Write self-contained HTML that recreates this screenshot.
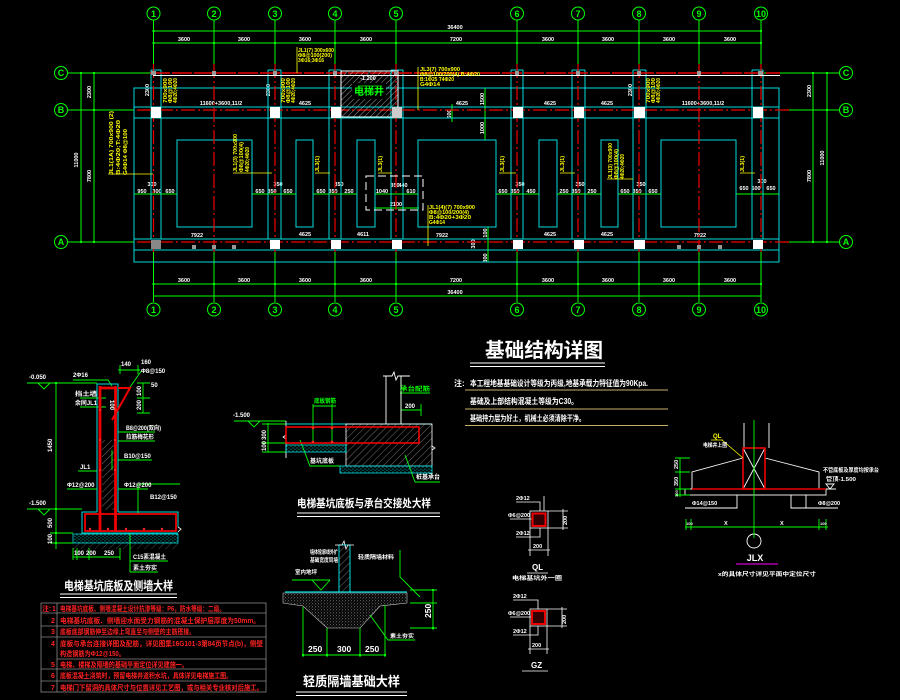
<!DOCTYPE html>
<html><head><meta charset="utf-8">
<style>
html,body{margin:0;padding:0;background:#000;width:900px;height:700px;overflow:hidden;}
svg{display:block;}
text{font-family:"Liberation Sans","Noto Sans CJK SC",sans-serif;font-weight:bold;}
.w{fill:#fff}.g{fill:#0f0}.y{fill:#ff0}.r{fill:#f22}
</style></head><body>
<svg width="900" height="700" viewBox="0 0 900 700" xmlns="http://www.w3.org/2000/svg">
<defs>
<pattern id="hatch" width="4" height="4" patternUnits="userSpaceOnUse" patternTransform="rotate(45)">
<line x1="0" y1="0" x2="0" y2="4" stroke="#ddd" stroke-width="0.7"/>
</pattern>
<pattern id="hatch2" width="5" height="5" patternUnits="userSpaceOnUse" patternTransform="rotate(45)">
<line x1="0" y1="0" x2="0" y2="5" stroke="#bbb" stroke-width="0.6"/>
</pattern>
<pattern id="cdots" width="4" height="3" patternUnits="userSpaceOnUse">
<rect x="0.5" y="0.5" width="0.9" height="0.9" fill="#0ee"/>
<rect x="2.5" y="1.8" width="0.9" height="0.9" fill="#0ee"/>
</pattern>
<pattern id="speck" width="3" height="3" patternUnits="userSpaceOnUse">
<rect x="0.3" y="0.4" width="0.8" height="0.8" fill="#ccc"/>
<rect x="1.8" y="1.7" width="0.7" height="0.7" fill="#999"/>
</pattern>
</defs>
<rect width="900" height="700" fill="#000"/>

<!-- ================= PLAN ================= -->
<g stroke="#0f0" stroke-width="1" fill="none">
  <line x1="153.5" y1="31" x2="761" y2="31"/>
  <line x1="153.5" y1="43" x2="761" y2="43"/>
  <line x1="153.5" y1="284" x2="761" y2="284"/>
  <line x1="153.5" y1="296" x2="761" y2="296"/>
  <path d="M153.5 20V66M214 20V66M275 20V66M335 20V66M396 20V66M517 20V66M578 20V66M639 20V66M699 20V66M761 20V66"/>
  <path d="M153.5 250V302M214 250V302M275 250V302M335 250V302M396 250V302M517 250V302M578 250V302M639 250V302M699 250V302M761 250V302"/>
  <circle cx="153.5" cy="13.5" r="6.5"/><circle cx="214" cy="13.5" r="6.5"/><circle cx="275" cy="13.5" r="6.5"/><circle cx="335" cy="13.5" r="6.5"/><circle cx="396" cy="13.5" r="6.5"/><circle cx="517" cy="13.5" r="6.5"/><circle cx="578" cy="13.5" r="6.5"/><circle cx="639" cy="13.5" r="6.5"/><circle cx="699" cy="13.5" r="6.5"/><circle cx="761" cy="13.5" r="6.5"/>
  <circle cx="153.5" cy="309.5" r="6.5"/><circle cx="214" cy="309.5" r="6.5"/><circle cx="275" cy="309.5" r="6.5"/><circle cx="335" cy="309.5" r="6.5"/><circle cx="396" cy="309.5" r="6.5"/><circle cx="517" cy="309.5" r="6.5"/><circle cx="578" cy="309.5" r="6.5"/><circle cx="639" cy="309.5" r="6.5"/><circle cx="699" cy="309.5" r="6.5"/><circle cx="761" cy="309.5" r="6.5"/>
  <circle cx="61" cy="73" r="6.5"/><circle cx="61" cy="110" r="6.5"/><circle cx="61" cy="242" r="6.5"/>
  <circle cx="846" cy="73" r="6.5"/><circle cx="846" cy="110" r="6.5"/><circle cx="846" cy="242" r="6.5"/>
  <path d="M68 73H152M68 110H134M68 242H134M763 73H839M779 110H839M779 242H839"/>
  <path d="M81 73V242M94 73V242M813 73V242M827 73V242"/>
  <path d="M485 88V140M476 140H492M452 104V122M488 227V262M482 239H494M482 250H494"/>
  <path d="M134 194H177M252 194H296M313 194H357M375 194H418M496 194H539M557 194H601M618 194H661M736 194H779M374 208H419"/>
</g>
<g fill="#0f0">
  <rect x="152.5" y="30" width="2" height="2"/><rect x="760" y="30" width="2" height="2"/>
  <rect x="152.5" y="42" width="2" height="2"/><rect x="213" y="42" width="2" height="2"/><rect x="274" y="42" width="2" height="2"/><rect x="334" y="42" width="2" height="2"/><rect x="395" y="42" width="2" height="2"/><rect x="516" y="42" width="2" height="2"/><rect x="577" y="42" width="2" height="2"/><rect x="638" y="42" width="2" height="2"/><rect x="698" y="42" width="2" height="2"/><rect x="760" y="42" width="2" height="2"/>
  <rect x="152.5" y="283" width="2" height="2"/><rect x="213" y="283" width="2" height="2"/><rect x="274" y="283" width="2" height="2"/><rect x="334" y="283" width="2" height="2"/><rect x="395" y="283" width="2" height="2"/><rect x="516" y="283" width="2" height="2"/><rect x="577" y="283" width="2" height="2"/><rect x="638" y="283" width="2" height="2"/><rect x="698" y="283" width="2" height="2"/><rect x="760" y="283" width="2" height="2"/>
  <rect x="80" y="72" width="2" height="2"/><rect x="80" y="241" width="2" height="2"/><rect x="93" y="72" width="2" height="2"/><rect x="93" y="109" width="2" height="2"/><rect x="93" y="241" width="2" height="2"/>
  <rect x="812" y="72" width="2" height="2"/><rect x="812" y="241" width="2" height="2"/><rect x="826" y="72" width="2" height="2"/><rect x="826" y="109" width="2" height="2"/><rect x="826" y="241" width="2" height="2"/>
</g>
<g class="g" font-size="9" text-anchor="middle" style="font-weight:normal">
  <text x="153.5" y="17">1</text><text x="214" y="17">2</text><text x="275" y="17">3</text><text x="335" y="17">4</text><text x="396" y="17">5</text><text x="517" y="17">6</text><text x="578" y="17">7</text><text x="639" y="17">8</text><text x="699" y="17">9</text><text x="761" y="17">10</text>
  <text x="153.5" y="313">1</text><text x="214" y="313">2</text><text x="275" y="313">3</text><text x="335" y="313">4</text><text x="396" y="313">5</text><text x="517" y="313">6</text><text x="578" y="313">7</text><text x="639" y="313">8</text><text x="699" y="313">9</text><text x="761" y="313">10</text>
  <text x="61" y="76">C</text><text x="61" y="113">B</text><text x="61" y="245">A</text>
  <text x="846" y="76">C</text><text x="846" y="113">B</text><text x="846" y="245">A</text>
</g>
<g class="w" font-size="5.5" text-anchor="middle">
  <text x="455" y="29">36400</text>
  <text x="184" y="41">3600</text><text x="244" y="41">3600</text><text x="305" y="41">3600</text><text x="366" y="41">3600</text><text x="456" y="41">7200</text><text x="548" y="41">3600</text><text x="608" y="41">3600</text><text x="669" y="41">3600</text><text x="730" y="41">3600</text>
  <text x="184" y="282">3600</text><text x="244" y="282">3600</text><text x="305" y="282">3600</text><text x="366" y="282">3600</text><text x="456" y="282">7200</text><text x="548" y="282">3600</text><text x="608" y="282">3600</text><text x="669" y="282">3600</text><text x="730" y="282">3600</text>
  <text x="455" y="294">36400</text>
  <text x="221" y="105">11600+3600,11/2</text><text x="305" y="105">4625</text><text x="462" y="105">4625</text><text x="550" y="105">4625</text><text x="607" y="105">4625</text><text x="703" y="105">11600+3600,11/2</text>
  <text x="197" y="237">7922</text><text x="305" y="236">4625</text><text x="363" y="236">4611</text><text x="442" y="237">7922</text><text x="550" y="236">4625</text><text x="607" y="236">4625</text><text x="700" y="237">7922</text>
  <text x="142" y="193">950</text><text x="157" y="193">300</text><text x="170" y="193">650</text><text x="152" y="186">300</text>
  <text x="260" y="193">650</text><text x="272" y="193">350</text><text x="288" y="193">650</text><text x="278" y="186">350</text>
  <text x="321" y="193">650</text><text x="333" y="193">350</text><text x="349" y="193">250</text><text x="339" y="186">350</text>
  <text x="382" y="193">1040</text><text x="395" y="187">350</text><text x="403" y="187">440</text><text x="411" y="193">610</text><text x="396" y="206">2100</text>
  <text x="503" y="193">650</text><text x="515" y="193">350</text><text x="531" y="193">450</text><text x="520" y="186">350</text>
  <text x="564" y="193">250</text><text x="576" y="193">350</text><text x="592" y="193">250</text><text x="580" y="186">350</text>
  <text x="625" y="193">650</text><text x="637" y="193">350</text><text x="653" y="193">650</text><text x="641" y="186">350</text>
  <text x="744" y="190">650</text><text x="756" y="190">500</text><text x="771" y="190">650</text><text x="762" y="183">300</text>
  <text transform="translate(91,92) rotate(-90)">2300</text>
  <text transform="translate(78,160) rotate(-90)">11000</text>
  <text transform="translate(91,176) rotate(-90)">7800</text>
  <text transform="translate(811,91) rotate(-90)">2300</text>
  <text transform="translate(824,158) rotate(-90)">11000</text>
  <text transform="translate(811,176) rotate(-90)">7800</text>
  <text transform="translate(149,90) rotate(-90)">2300</text>
  <text transform="translate(270,90) rotate(-90)">2300</text>
  <text transform="translate(632,90) rotate(-90)">2300</text>
  <text transform="translate(484,99) rotate(-90)">1500</text>
  <text transform="translate(484,128) rotate(-90)">1000</text>
  <text transform="translate(451,114) rotate(-90)">600</text>
  <text transform="translate(487,233) rotate(-90)">100</text>
  <text transform="translate(475,244) rotate(-90)">300</text>
  <text transform="translate(487,258) rotate(-90)">300</text>
  <text x="368" y="80">-1.200</text>
</g>

<g stroke="#0dd" stroke-width="1" fill="none">
  <rect x="134" y="88" width="645" height="174"/>
  <path d="M134 107H779M134 118H779M134 239H779M134 250H779"/>
  <path d="M151 70V239M161 70V239M151 70H161"/>
  <path d="M268 70V239M281 70V239M268 70H281"/>
  <path d="M329 70V239M341 70V239M329 70H341"/>
  <path d="M391 70V239M403 70V239M391 70H403"/>
  <path d="M511 70V239M523 70V239M511 70H523"/>
  <path d="M572 70V239M585 70V239M572 70H585"/>
  <path d="M633 70V239M646 70V239M633 70H646"/>
  <path d="M752 70V239M763 70V239M752 70H763"/>
  <rect x="177" y="140" width="75" height="87"/>
  <rect x="296" y="140" width="17" height="87"/>
  <rect x="357" y="140" width="18" height="87"/>
  <rect x="418" y="140" width="78" height="87"/>
  <rect x="539" y="140" width="18" height="87"/>
  <rect x="601" y="140" width="17" height="87"/>
  <rect x="661" y="140" width="75" height="87"/>
</g>

<g stroke="#e00" stroke-width="1.2" fill="none" stroke-dasharray="14,3,2,3">
  <path d="M153.5 64V252M214 64V252M275 64V252M335 64V252M396 64V252M517 64V252M578 64V252M639 64V252M699 64V252M761 64V252"/>
  <path d="M137 110H790M137 242H790"/>
</g>
<path d="M150 73H780" stroke="#e00" stroke-width="1.5" stroke-dasharray="20,2"/>
<path d="M153 75.5H780" stroke="#fff" stroke-width="1"/>

<rect x="341" y="71" width="57" height="46" fill="url(#hatch)" stroke="#fff" stroke-width="1"/>
<rect x="352" y="83" width="34" height="16" fill="#000"/>
<text x="369" y="95" font-size="10" class="g" text-anchor="middle">电梯井</text>
<path d="M358 86H382" stroke="#0f0" stroke-width="0.8"/>
<rect x="366" y="176" width="57" height="34" fill="none" stroke="#fff" stroke-width="1" stroke-dasharray="8,4"/>

<g fill="#fff">
  <rect x="151" y="107" width="10" height="11"/><rect x="270" y="107" width="10" height="11"/><rect x="331" y="107" width="10" height="11"/><rect x="392" y="107" width="10" height="11" fill="#ccc"/><rect x="513" y="107" width="10" height="11"/><rect x="574" y="107" width="10" height="11"/><rect x="634" y="107" width="11" height="11"/><rect x="753" y="107" width="10" height="11"/>
  <rect x="151" y="240" width="10" height="9" fill="#888"/><rect x="270" y="240" width="10" height="9"/><rect x="331" y="240" width="10" height="9"/><rect x="392" y="240" width="10" height="9"/><rect x="513" y="240" width="10" height="9"/><rect x="574" y="240" width="10" height="9"/><rect x="634" y="240" width="11" height="9"/><rect x="753" y="240" width="10" height="9"/>
</g>
<g fill="#999">
  <rect x="151" y="71" width="5" height="4"/><rect x="212" y="71" width="4" height="4"/><rect x="273" y="71" width="4" height="4"/><rect x="333" y="71" width="4" height="4"/><rect x="394" y="71" width="4" height="4"/><rect x="515" y="71" width="4" height="4"/><rect x="576" y="71" width="4" height="4"/><rect x="637" y="71" width="4" height="4"/><rect x="697" y="71" width="4" height="4"/><rect x="758" y="71" width="5" height="4"/>
  <rect x="192" y="245" width="4" height="4"/><rect x="212" y="245" width="4" height="4"/><rect x="232" y="245" width="4" height="4"/><rect x="677" y="245" width="4" height="4"/><rect x="697" y="245" width="4" height="4"/><rect x="718" y="245" width="4" height="4"/>
</g>

<g stroke="#ff0" stroke-width="0.8" fill="none">
  <path d="M108 174H153M233 173H272M315 173H330M378 173H392M499 173H516M560 173H575M740 173H755M607 179H633"/>
  <path d="M297 47V73M418 67V110M428 205V246"/>
</g>
<g class="y" font-size="5.5">
  <text transform="translate(113,175) rotate(-90)" textLength="64" lengthAdjust="spacingAndGlyphs">JL1(1A) 700x900 (2)</text>
  <text transform="translate(120,175) rotate(-90)" textLength="55" lengthAdjust="spacingAndGlyphs">B:4Φ20;T:4Φ20</text>
  <text transform="translate(127,175) rotate(-90)" textLength="46" lengthAdjust="spacingAndGlyphs">G4Φ14 Φ8@100</text>
  <text transform="translate(167,103) rotate(-90)" textLength="25" lengthAdjust="spacingAndGlyphs">700x900</text>
  <text transform="translate(172,103) rotate(-90)" textLength="25" lengthAdjust="spacingAndGlyphs">Φ8@100</text>
  <text transform="translate(177,103) rotate(-90)" textLength="25" lengthAdjust="spacingAndGlyphs">4Φ20;4Φ20</text>
  <text transform="translate(285,103) rotate(-90)" textLength="25" lengthAdjust="spacingAndGlyphs">700x900</text>
  <text transform="translate(290,103) rotate(-90)" textLength="25" lengthAdjust="spacingAndGlyphs">Φ8@100</text>
  <text transform="translate(295,103) rotate(-90)" textLength="25" lengthAdjust="spacingAndGlyphs">4Φ20;4Φ20</text>
  <text transform="translate(237,172) rotate(-90)" textLength="38" lengthAdjust="spacingAndGlyphs">JL1(3) 700x900</text>
  <text transform="translate(243,172) rotate(-90)" textLength="30" lengthAdjust="spacingAndGlyphs">Φ8@100(4)</text>
  <text transform="translate(249,172) rotate(-90)" textLength="25" lengthAdjust="spacingAndGlyphs">4Φ20;4Φ20</text>
  <text transform="translate(319,172) rotate(-90)" textLength="16" lengthAdjust="spacingAndGlyphs">JL3(1)</text>
  <text transform="translate(382,172) rotate(-90)" textLength="16" lengthAdjust="spacingAndGlyphs">JL3(1)</text>
  <text transform="translate(504,172) rotate(-90)" textLength="16" lengthAdjust="spacingAndGlyphs">JL3(1)</text>
  <text transform="translate(564,172) rotate(-90)" textLength="16" lengthAdjust="spacingAndGlyphs">JL3(1)</text>
  <text transform="translate(744,172) rotate(-90)" textLength="16" lengthAdjust="spacingAndGlyphs">JL3(1)</text>
  <text transform="translate(650,103) rotate(-90)" textLength="25" lengthAdjust="spacingAndGlyphs">700x900</text>
  <text transform="translate(655,103) rotate(-90)" textLength="25" lengthAdjust="spacingAndGlyphs">Φ8@100</text>
  <text transform="translate(660,103) rotate(-90)" textLength="25" lengthAdjust="spacingAndGlyphs">4Φ20;4Φ20</text>
  <text transform="translate(612,179) rotate(-90)" textLength="36" lengthAdjust="spacingAndGlyphs">JL1(3) 700x900</text>
  <text transform="translate(618,179) rotate(-90)" textLength="30" lengthAdjust="spacingAndGlyphs">Φ8@100(4)</text>
  <text transform="translate(624,179) rotate(-90)" textLength="25" lengthAdjust="spacingAndGlyphs">4Φ20;4Φ20</text>
  <text x="298" y="52" textLength="36" lengthAdjust="spacingAndGlyphs">JL1(7) 300x600</text>
  <text x="298" y="57" textLength="34" lengthAdjust="spacingAndGlyphs">Φ8@100(200)</text>
  <text x="298" y="62" textLength="26" lengthAdjust="spacingAndGlyphs">3Φ16;3Φ16</text>
  <text x="420" y="71" textLength="40" lengthAdjust="spacingAndGlyphs">JL3(7) 700x900</text>
  <text x="420" y="76" textLength="60" lengthAdjust="spacingAndGlyphs">Φ8@100/200(4) B:4Φ20</text>
  <text x="420" y="81" textLength="34" lengthAdjust="spacingAndGlyphs">B:1Φ25 T4Φ20</text>
  <text x="420" y="86" textLength="20" lengthAdjust="spacingAndGlyphs">G4Φ14</text>
  <text x="429" y="209" textLength="46" lengthAdjust="spacingAndGlyphs">JL1(4)(7) 700x900</text>
  <text x="429" y="214" textLength="40" lengthAdjust="spacingAndGlyphs">Φ8@100/200(4)</text>
  <text x="429" y="219" textLength="42" lengthAdjust="spacingAndGlyphs">B:4Φ20+3Φ20</text>
  <text x="429" y="224" textLength="16" lengthAdjust="spacingAndGlyphs">G4Φ14</text>
</g>

<!-- ================= TITLE + NOTES ================= -->
<text x="485" y="357" font-size="20" class="w" textLength="118" lengthAdjust="spacingAndGlyphs">基础结构详图</text>
<path d="M470 363H605M470 366.5H605" stroke="#fff" stroke-width="1"/>
<text x="454" y="386" font-size="8" class="w">注:</text>
<g class="w" font-size="8">
  <text x="470" y="386" textLength="178" lengthAdjust="spacingAndGlyphs">本工程地基基础设计等级为丙级,地基承载力特征值为90Kpa.</text>
  <text x="470" y="404" textLength="108" lengthAdjust="spacingAndGlyphs">基础及上部结构混凝土等级为C30。</text>
  <text x="470" y="421" textLength="115" lengthAdjust="spacingAndGlyphs">基础持力层为好土，机械土必须清除干净。</text>
</g>
<path d="M465 390H668M465 409H668M465 425.5H668" stroke="#c9b06a" stroke-width="1"/>

<!-- ================= LEFT DETAIL ================= -->
<g stroke="#0f0" stroke-width="0.9" fill="none">
  <path d="M27 383H97M27 509H82"/>
  <path d="M38 383L44 389L50 383"/>
  <path d="M38 509L44 515L50 509"/>
  <path d="M56 383V549M50 533H73M50 543H73"/>
  <path d="M73 557H120M73 548V560M77 548V560M89 548V560M120 548V560"/>
  <path d="M130 533V572M130 561H168M130 572H158"/>
  <path d="M73 380H108L112 386"/>
  <path d="M120 365V374M138 365V374M118 370H140"/>
  <path d="M142 370L128 390M143 383V413M137 383H150M137 398H150M137 413H150"/>
  <path d="M106 398H80M106 407H80"/>
  <path d="M78 471H97M67 489H97M118 489H148M118 460H152M118 432H155M118 441H155M112 450V470"/>
  <path d="M138 514V484H180"/>
</g>
<rect x="55" y="382" width="2" height="2" fill="#0f0"/><rect x="55" y="508" width="2" height="2" fill="#0f0"/><rect x="55" y="532" width="2" height="2" fill="#0f0"/><rect x="55" y="542" width="2" height="2" fill="#0f0"/>
<path d="M97 512V384H118V512M97 512H82V533H178M118 512H178V527" stroke="#0dd" stroke-width="1" fill="none"/>
<path d="M178 527l3 2-3 3" stroke="#fff" stroke-width="0.8" fill="none"/>
<path d="M118 388L130 388L112 420" stroke="#e00" stroke-width="2" fill="none"/>
<path d="M100 386V532M115.5 386V532M100 388H116" stroke="#e00" stroke-width="2.8" fill="none"/>
<rect x="102" y="440" width="12" height="70" fill="url(#hatch2)"/>
<rect x="85" y="514" width="91" height="17" fill="none" stroke="#e00" stroke-width="1.8"/>
<g fill="#f22"><circle cx="90" cy="529" r="1.2"/><circle cx="108" cy="529" r="1.2"/><circle cx="126" cy="529" r="1.2"/><circle cx="144" cy="529" r="1.2"/><circle cx="162" cy="529" r="1.2"/><circle cx="100" cy="410" r="1.2"/><circle cx="115" cy="410" r="1.2"/><circle cx="100" cy="440" r="1.2"/><circle cx="115" cy="440" r="1.2"/><circle cx="100" cy="470" r="1.2"/><circle cx="115" cy="470" r="1.2"/></g>
<rect x="73" y="534" width="105" height="9" fill="url(#cdots)" stroke="#0dd" stroke-width="0.8"/>
<rect x="73" y="543" width="105" height="6" fill="url(#hatch2)" opacity="0.6"/>
<g class="w" font-size="6">
  <text x="29" y="379">-0.050</text>
  <text x="29" y="505">-1.500</text>
  <text transform="translate(52,452) rotate(-90)">1450</text>
  <text transform="translate(52,528) rotate(-90)">500</text>
  <text transform="translate(52,544) rotate(-90)">100</text>
  <text x="73" y="377">2Φ16</text>
  <text x="121" y="366">140</text>
  <text x="141" y="364">160</text>
  <text x="141" y="373">Φ8@150</text>
  <text transform="translate(141,396) rotate(-90)">100</text>
  <text transform="translate(141,410) rotate(-90)">200</text>
  <text x="151" y="387">50</text>
  <text x="75" y="396" textLength="22" lengthAdjust="spacingAndGlyphs">挡土墙</text>
  <text x="75" y="405" textLength="22" lengthAdjust="spacingAndGlyphs">余同JL1</text>
  <text x="126" y="430" textLength="35" lengthAdjust="spacingAndGlyphs">B8@200(双向)</text>
  <text x="126" y="439" textLength="28" lengthAdjust="spacingAndGlyphs">拉筋梅花形</text>
  <text x="124" y="458">B10@150</text>
  <text x="80" y="469">JL1</text>
  <text x="67" y="487">Φ12@200</text>
  <text x="124" y="487">Φ12@200</text>
  <text x="150" y="499">B12@150</text>
  <text x="74" y="555">100</text><text x="86" y="555">200</text><text x="104" y="555">250</text>
  <text x="133" y="559" textLength="33" lengthAdjust="spacingAndGlyphs">C15素混凝土</text>
  <text x="133" y="570" textLength="24" lengthAdjust="spacingAndGlyphs">素土夯实</text>
  <text transform="translate(110,400) rotate(90)">100</text>
</g>
<text x="64" y="590" font-size="12" class="w" textLength="109" lengthAdjust="spacingAndGlyphs">电梯基坑底板及侧墙大样</text>
<path d="M60 594H177M60 597.5H177" stroke="#fff" stroke-width="1"/>

<g stroke="#888" stroke-width="0.8" fill="none">
  <rect x="41" y="603" width="225" height="89"/>
  <path d="M57 603V692M41 613H266M41 626H266M41 637H266M57 659H266M41 669H266M41 681H266"/>
</g>
<g class="r" font-size="7">
  <text x="42" y="611">注:</text><text x="52" y="611">1</text>
  <text x="51" y="623">2</text><text x="51" y="634">3</text><text x="51" y="646">4</text><text x="51" y="667">5</text><text x="51" y="678">6</text><text x="51" y="690">7</text>
</g>
<g class="r" font-size="7">
  <text x="60" y="611" textLength="165" lengthAdjust="spacingAndGlyphs">电梯基坑底板、侧墙混凝土设计抗渗等级：P6，防水等级：二级。</text>
  <text x="60" y="623" textLength="200" lengthAdjust="spacingAndGlyphs">电梯基坑底板、侧墙迎水面受力钢筋的混凝土保护层厚度为50mm。</text>
  <text x="60" y="634" textLength="135" lengthAdjust="spacingAndGlyphs">底板底部钢筋伸至边缘上弯直至与侧壁的主筋搭接。</text>
  <text x="60" y="646" textLength="203" lengthAdjust="spacingAndGlyphs">底板与承台连接详图及配筋，详见图集16G101-3第84页节点(b)，侧壁</text>
  <text x="60" y="656" textLength="65" lengthAdjust="spacingAndGlyphs">构造钢筋为Φ12@150。</text>
  <text x="60" y="667" textLength="128" lengthAdjust="spacingAndGlyphs">电梯、楼梯及隔墙的基础平面定位详见建施一。</text>
  <text x="60" y="678" textLength="172" lengthAdjust="spacingAndGlyphs">底板混凝土浇筑时，预留电梯井道积水坑，具体详见电梯施工图。</text>
  <text x="60" y="690" textLength="203" lengthAdjust="spacingAndGlyphs">电梯门下留洞的具体尺寸与位置详见工艺图，或与相关专业核对后施工。</text>
</g>

<!-- ================= MIDDLE DETAIL ================= -->
<g stroke="#0f0" stroke-width="0.9" fill="none">
  <path d="M234 421H286M248 421L254 427L260 421"/>
  <path d="M268 423V452M262 424H286M262 443H286M262 452H286"/>
  <path d="M313 404V443M332 404V443M313 406H336"/>
  <path d="M401 378V424M401 410H421M421 404V416M400 393H430"/>
  <path d="M300 440L310 466H340"/>
  <path d="M405 455L415 482H440"/>
</g>
<path d="M286 421V458M386 376V424M401 376V424M383 376H392l2-4 2 8 2-4H410" stroke="#fff" stroke-width="0.9" fill="none"/>
<path d="M286 435l-3 2 3 2M432 446l3 2-3 2" stroke="#fff" stroke-width="0.8" fill="none"/>
<path d="M286 424H432" stroke="#0dd" stroke-width="1"/>
<rect x="346" y="424" width="86" height="42" fill="url(#hatch2)" stroke="#fff" stroke-width="0.8"/>
<rect x="286" y="427" width="133" height="16" fill="none" stroke="#e00" stroke-width="1.6"/>
<g fill="#f22"><circle cx="313" cy="428" r="1.4"/><circle cx="332" cy="428" r="1.4"/><circle cx="313" cy="442" r="1.4"/><circle cx="332" cy="442" r="1.4"/></g>
<rect x="286" y="445" width="60" height="7" fill="url(#cdots)" stroke="#0dd" stroke-width="0.8"/>
<rect x="340" y="466" width="92" height="7" fill="url(#cdots)" stroke="#0dd" stroke-width="0.8"/>
<g class="w" font-size="6">
  <text x="233" y="417">-1.500</text>
  <text transform="translate(266,440) rotate(-90)">300</text>
  <text transform="translate(266,451) rotate(-90)">100</text>
  <text x="405" y="408">200</text>
  <text x="310" y="463" textLength="24" lengthAdjust="spacingAndGlyphs">基坑底板</text>
  <text x="416" y="479" textLength="24" lengthAdjust="spacingAndGlyphs">桩基承台</text>
</g>
<g class="g" font-size="6">
  <text x="314" y="403" textLength="22" lengthAdjust="spacingAndGlyphs">底板钢筋</text>
  <text x="400" y="391" textLength="30" lengthAdjust="spacingAndGlyphs">承台配筋</text>
</g>
<text x="297" y="507" font-size="11" class="w" textLength="134" lengthAdjust="spacingAndGlyphs">电梯基坑底板与承台交接处大样</text>
<path d="M297 513H440M297 516.5H440" stroke="#fff" stroke-width="1"/>

<!-- ================= LIGHT WALL DETAIL ================= -->
<polygon points="283,593 407,593 407,603 380,606 360,628 327,628 303,606 283,603" fill="url(#speck)" stroke="#ccc" stroke-width="0.6"/>
<rect x="339" y="545" width="11" height="47" fill="url(#hatch2)" stroke="#0dd" stroke-width="1"/>
<path d="M335 545H342l2-4 2 8 2-4H354" stroke="#fff" stroke-width="0.8" fill="none"/>
<path d="M285 592H407" stroke="#0dd" stroke-width="1.2"/>
<g stroke="#0f0" stroke-width="0.9" fill="none">
  <path d="M303 607V657M327 628V657M360 628V657M385 605V657M303 655H385"/>
  <path d="M410 590H437M410 628H437M433 590V630M410 603H437"/>
  <path d="M292 580H330M312 580L321 590L330 580"/>
  <path d="M370 615L388 640H415"/>
  <path d="M400 550V577L420 597"/>
</g>
<g fill="#0f0"><rect x="302" y="654" width="2" height="2"/><rect x="326" y="654" width="2" height="2"/><rect x="359" y="654" width="2" height="2"/><rect x="384" y="654" width="2" height="2"/><rect x="432" y="589" width="2" height="2"/><rect x="432" y="627" width="2" height="2"/></g>
<g class="w" font-size="8.5" style="font-weight:normal">
  <text x="308" y="652">250</text><text x="337" y="652">300</text><text x="365" y="652">250</text>
  <text transform="translate(431,618) rotate(-90)">250</text>
</g>
<g class="w" font-size="5.5">
  <text x="310" y="554" textLength="28" lengthAdjust="spacingAndGlyphs">墙体轮廓线外扩</text>
  <text x="310" y="562" textLength="28" lengthAdjust="spacingAndGlyphs">基础宽度同墙</text>
  <text x="358" y="559" textLength="36" lengthAdjust="spacingAndGlyphs">轻质隔墙材料</text>
  <text x="295" y="574" textLength="22" lengthAdjust="spacingAndGlyphs">室内地坪</text>
  <text x="390" y="638" textLength="24" lengthAdjust="spacingAndGlyphs">素土夯实</text>
</g>
<text x="303" y="686" font-size="13" class="w" textLength="97" lengthAdjust="spacingAndGlyphs">轻质隔墙基础大样</text>
<path d="M296 692H407M296 695.5H407" stroke="#fff" stroke-width="1"/>

<!-- ================= QL / GZ ================= -->
<g stroke="#fff" stroke-width="0.8" fill="none">
  <rect x="530" y="511" width="18" height="17"/>
  <path d="M530 528V556M548 528V556M528 550H550M548 511H568M548 528H568M563 509V530"/>
  <path d="M516 502H540V511M544 496V511M510 519H532M516 537H540V528"/>
  <path d="M527 573H548"/>
  <rect x="530" y="609" width="17" height="17"/>
  <path d="M530 626V654M547 626V654M528 649H549M547 609H567M547 626H567M562 607V628"/>
  <path d="M513 600H538V609M510 617H532M513 635H538V626"/>
  <path d="M522 671H548"/>
</g>
<rect x="532.5" y="513.5" width="13" height="12.5" fill="#300" stroke="#e00" stroke-width="2"/>
<rect x="532" y="611" width="13" height="13" fill="#300" stroke="#e00" stroke-width="2"/>
<g class="w" font-size="5.5">
  <text x="516" y="500">2Φ12</text><text x="508" y="517">Φ6@200</text><text x="516" y="535">2Φ12</text>
  <text x="533" y="548">200</text>
  <text transform="translate(567,525) rotate(-90)">200</text>
  <text x="512" y="580" textLength="50" lengthAdjust="spacingAndGlyphs">电梯基坑外一圈</text>
  <text x="513" y="598">2Φ12</text><text x="508" y="615">Φ6@200</text><text x="513" y="633">2Φ12</text>
  <text x="532" y="647">200</text>
  <text transform="translate(566,624) rotate(-90)">200</text>
</g>
<text x="532" y="570" font-size="8" class="w">QL</text>
<text x="531" y="668" font-size="8" class="w">GZ</text>

<!-- ================= JLX ================= -->
<g stroke="#fff" stroke-width="0.9" fill="none">
  <path d="M744 423V448M769 423V448"/>
  <path d="M692 489V472L743 458M765 458L819 472V489"/>
  <rect x="685" y="489" width="141" height="6"/>
  <path d="M737 495V508H685M791 495V508H838M806 495V508"/>
  <path d="M743 448L765 489M765 448L743 489"/>
  <circle cx="754" cy="541" r="7"/>
  <path d="M826 489H836M830 489L826 484H834Z"/>
</g>
<rect x="743" y="448" width="22" height="41" fill="none" stroke="#e00" stroke-width="1.6"/>
<path d="M692 489H826" stroke="#e00" stroke-width="1.6"/>
<g stroke="#0f0" stroke-width="0.9" fill="none">
  <path d="M754 420V538"/>
  <path d="M685 527H828M686 519V530M691 519V530M819 519V530M826 519V530"/>
  <path d="M680 458V497M675 458H690M675 472H690M675 489H690M675 495H690"/>
</g>
<path d="M736 564H778" stroke="#c0c" stroke-width="1.2"/>
<path d="M711 440H723M722 440L743 458" stroke="#ff0" stroke-width="0.8" fill="none"/>
<text x="713" y="438" font-size="6" class="y">QL</text>
<g class="w" font-size="5.5">
  <text x="703" y="447" textLength="24" lengthAdjust="spacingAndGlyphs">电梯井上圈</text>
  <text x="823" y="472" textLength="56" lengthAdjust="spacingAndGlyphs">不管底板及厚度均按承台</text>
  <text x="826" y="481" textLength="30" lengthAdjust="spacingAndGlyphs">管顶-1.500</text>
  <text x="692" y="505">Φ14@150</text>
  <text x="818" y="505">Φ8@200</text>
  <text x="724" y="525">X</text><text x="780" y="525">X</text>
  <text x="686" y="525" font-size="4">100</text><text x="820" y="525" font-size="4">100</text>
  <text transform="translate(678,469) rotate(-90)">250</text>
  <text transform="translate(678,486) rotate(-90)">350</text>
  <text transform="translate(678,497) rotate(-90)" font-size="4">100</text>
  <text x="718" y="576" textLength="98" lengthAdjust="spacingAndGlyphs">x的具体尺寸详见平面中定位尺寸</text>
</g>
<text x="755" y="561" font-size="9" class="w" text-anchor="middle">JLX</text>
</svg>
</body></html>
